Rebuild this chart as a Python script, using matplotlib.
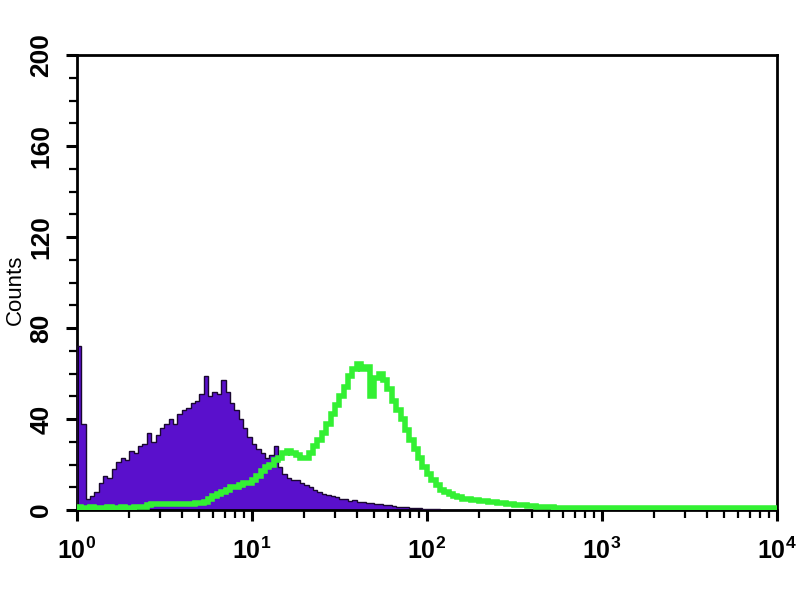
import numpy as np
import matplotlib.pyplot as plt

plt.rcParams['font.family'] = ['Liberation Sans', 'DejaVu Sans']

# histogram bins are 0.025 decades wide, starting at 10^0
log_step = 0.025

# isotype control (purple, filled)
control = [72, 38, 5, 6, 8, 12, 15, 14, 18, 21,
           23, 22, 26, 25, 28, 29, 34, 30, 33, 36,
           38, 40, 38, 42, 44, 45, 47, 48, 51, 59,
           50, 52, 51, 57, 52, 47, 44, 40, 36, 32,
           29, 27, 25, 23, 24, 28, 19, 16, 14, 13,
           13, 12, 11, 10, 9, 8, 7, 6.5, 6, 5.5,
           5, 5, 4, 4.5, 3.5, 3.5, 3, 3, 2.5, 2.5,
           2, 2, 1.8, 1.5, 1.5, 1.2, 1, 1, 0.8, 0.6,
           0.5, 0.4, 0.3, 0.2, 0.2, 0.1, 0.1, 0]

# stained sample (green outline)
sample = [1.2, 1.0, 1.0, 1.2, 1.0, 1.0, 1.0, 1.2, 1.0, 1.0,
          1.2, 1.0, 1.0, 1.2, 1.5, 1.5, 2, 2.5, 2.5, 2.5,
          2.5, 2.5, 2.5, 2.5, 2.5, 2.5, 2.8, 3, 3, 3.5,
          5, 6, 7, 8, 9, 10, 10, 11, 12, 12,
          13, 15, 17, 19, 20, 22, 23, 25, 26, 25,
          24, 23, 23, 25, 28, 31, 34, 38, 42, 46,
          50, 54, 59, 62, 64, 62, 63, 50, 58, 60,
          57, 53, 48, 44, 40, 35, 31, 27, 23, 19,
          16, 13, 11, 9, 8, 7, 6, 5.5, 5, 5,
          4.5, 4.5, 4, 4, 3.5, 3.5, 3, 3, 2.5, 2.5,
          2.2, 2.2, 2, 1.8, 1.6, 1.5, 1.3, 1.2, 1.1, 1.0,
          0.9, 0.9, 0.8, 0.9, 0.8, 0.8, 0.7, 0.8, 0.8, 0.7,
          0.8, 0.7, 0.7, 0.8, 0.7, 0.7, 0.8, 0.7, 0.7, 0.7,
          0.8, 0.7, 0.7, 0.7, 0.8, 0.7, 0.7, 0.7, 0.7, 0.8,
          0.7, 0.7, 0.7, 0.7, 0.7, 0.8, 0.7, 0.7, 0.7, 0.7,
          0.7, 0.7, 0.8, 0.7, 0.7, 0.7, 0.7, 0.8, 0.7, 0.7]

control_edges = 10 ** (np.arange(len(control) + 1) * log_step)
sample_edges = 10 ** (np.arange(len(sample) + 1) * log_step)

fig = plt.figure(figsize=(8, 6), dpi=100)
ax = fig.add_axes([0.096, 0.15, 0.875, 0.758])

ax.stairs(control, control_edges, fill=True, color='#5a10cc', zorder=2)
ax.stairs(control, control_edges, color='#1a0830', lw=1.0, zorder=3)
ax.stairs(sample, sample_edges, color='#33f033', lw=4, zorder=4)

ax.set_xscale('log')
ax.set_xlim(1, 1e4)
ax.set_ylim(0, 200)
ax.set_yticks([0, 40, 80, 120, 160, 200])
ax.set_yticks(np.arange(0, 201, 10), minor=True)

for s in ax.spines.values():
    s.set_linewidth(2)
    s.set_color('black')

ax.tick_params(which='major', direction='out', length=8, width=2.2, colors='black')
ax.tick_params(which='minor', direction='out', length=6, width=1.6)
ax.tick_params(axis='x', pad=12, labelsize=18)
ax.tick_params(axis='y', pad=9, labelsize=19)
for lab in ax.get_yticklabels():
    lab.set_rotation(90)
    lab.set_va('center')
    lab.set_fontweight('bold')
for lab in ax.get_xticklabels():
    lab.set_fontweight('bold')

fig.text(0.019, 0.517, 'Counts', rotation=90, ha='center', va='center', fontsize=16)

fig.savefig('out.png', dpi=100)
